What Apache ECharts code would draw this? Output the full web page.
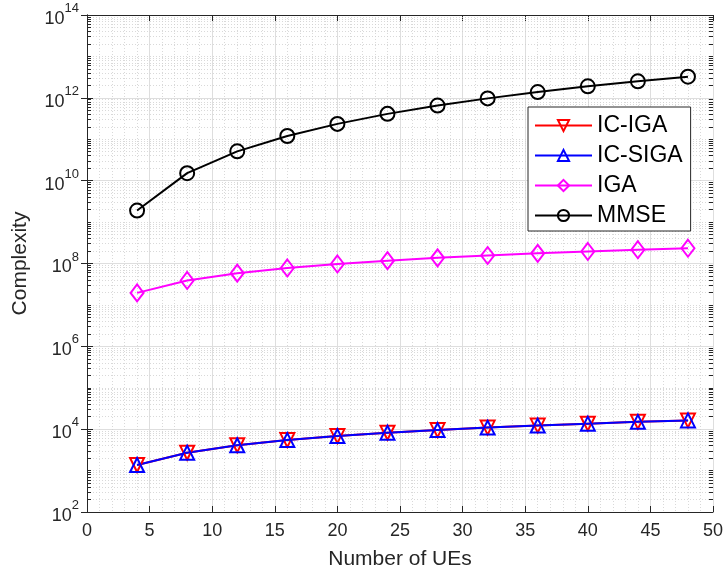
<!DOCTYPE html>
<html><head><meta charset="utf-8">
<script src="https://cdn.jsdelivr.net/npm/echarts@6/dist/echarts.min.js"></script>
<style>html,body{margin:0;padding:0;background:#fff}#c{width:728px;height:575px}</style>
</head><body><div id="c"></div>
<script>
const numUEs = [4, 8, 12, 16, 20, 24, 28, 32, 36, 40, 44, 48];
const icIga = [1.36e3, 2.7e3, 4.1e3, 5.45e3, 6.8e3, 8.2e3, 9.5e3, 1.09e4, 1.22e4, 1.36e4, 1.5e4, 1.63e4];
const icSiga = [1.36e3, 2.7e3, 4.1e3, 5.45e3, 6.8e3, 8.2e3, 9.5e3, 1.09e4, 1.22e4, 1.36e4, 1.5e4, 1.63e4];
const iga = [1.95e7, 3.9e7, 5.85e7, 7.8e7, 9.75e7, 1.17e8, 1.37e8, 1.56e8, 1.76e8, 1.95e8, 2.15e8, 2.34e8];
const mmse = [1.9e9, 1.52e10, 5.1e10, 1.2e11, 2.35e11, 4.1e11, 6.5e11, 9.7e11, 1.38e12, 1.9e12, 2.5e12, 3.25e12];
const xTicks = [0, 5, 10, 15, 20, 25, 30, 35, 40, 45, 50];
const yExponents = [2, 4, 6, 8, 10, 12, 14];

const axisColor = '#262626';
const font = 'Liberation Sans, Arial, Helvetica, sans-serif';

// minor log grid / tick values (2..9 x 10^k and odd decades)
const minorVals = [];
for (let e = 2; e < 14; e++) {
  for (let m = 1; m <= 9; m++) {
    if (m === 1 && e % 2 === 0) continue;
    minorVals.push(m * Math.pow(10, e));
  }
}
const minorGrid = minorVals.map(v => ({ yAxis: v }));
const minorTicks = [];
minorVals.forEach(v => {
  minorTicks.push([{ coord: [0, v] }, { coord: [0.32, v] }]);
  minorTicks.push([{ coord: [49.68, v] }, { coord: [50, v] }]);
});

function mk(name, data, color, symbol, size, rotate) {
  return {
    name, type: 'line', data: numUEs.map((x, i) => [x, data[i]]),
    symbol, symbolSize: size, symbolRotate: rotate || 0,
    lineStyle: { color, width: 2 },
    itemStyle: { color: 'rgba(0,0,0,0)', borderColor: color, borderWidth: 2 },
    emphasis: { disabled: true }, animation: false, z: 3
  };
}

const chart = echarts.init(document.getElementById('c'), null, { renderer: 'canvas' });
const yLabelFmt = v => {
  const e = Math.round(Math.log10(v));
  return yExponents.indexOf(e) >= 0 ? '{b|10}{s|' + e + '}' : '';
};
const yAxisBase = {
  type: 'log', logBase: 10, min: 1e2, max: 1e14, interval: 2, splitNumber: 6,
  axisLine: { show: true, lineStyle: { color: axisColor, width: 1 } },
  axisTick: { show: true, inside: true, length: 6, lineStyle: { color: axisColor } },
  splitLine: { show: true, lineStyle: { color: '#dedede', width: 1 } },
  minorTick: { show: false }, minorSplitLine: { show: false }
};
const xAxisBase = {
  type: 'value', min: 0, max: 50, interval: 5,
  axisLine: { show: true, onZero: false, lineStyle: { color: axisColor, width: 1 } },
  axisTick: { show: true, inside: true, length: 6, lineStyle: { color: axisColor } },
  splitLine: { show: true, lineStyle: { color: '#dedede', width: 1 } },
  minorTick: { show: false, splitNumber: 5 },
  minorSplitLine: { show: true, lineStyle: { color: '#cfcfcf', width: 0.8, type: [1, 2] } }
};

const series = [
  mk('IC-IGA', icIga, '#ff0000', 'triangle', 14, 180),
  mk('IC-SIGA', icSiga, '#0000ff', 'triangle', 14, 0),
  mk('IGA', iga, '#ff00ff', 'diamond', [13, 17], 0),
  mk('MMSE', mmse, '#000000', 'circle', 14, 0)
];
series.push({
  name: '_grid', type: 'line', data: [], silent: true, animation: false, z: 1,
  markLine: {
    silent: true, symbol: ['none', 'none'], animation: false, z: 1,
    label: { show: false },
    lineStyle: { color: '#cfcfcf', width: 0.8, type: [1, 2] },
    data: minorGrid
  }
});
series.push({
  name: '_ticks', type: 'line', data: [], silent: true, animation: false, z: 1,
  markLine: {
    silent: true, symbol: ['none', 'none'], animation: false, z: 1,
    label: { show: false },
    lineStyle: { color: axisColor, width: 1, type: 'solid' },
    data: minorTicks
  }
});

chart.setOption({
  backgroundColor: '#fff',
  animation: false,
  grid: { left: 87, right: 15, top: 15, bottom: 63, containLabel: false },
  xAxis: [
    Object.assign({}, xAxisBase, {
      position: 'bottom',
      name: 'Number of UEs', nameLocation: 'middle', nameGap: 37,
      nameTextStyle: { fontFamily: font, fontSize: 21, color: axisColor },
      axisLabel: { show: true, fontFamily: font, fontSize: 18, color: axisColor, margin: 10,
        formatter: v => (xTicks.indexOf(v) >= 0 ? String(v) : '') }
    }),
    Object.assign({}, xAxisBase, {
      position: 'top', splitLine: { show: false }, minorSplitLine: { show: false },
      axisLabel: { show: false }
    })
  ],
  yAxis: [
    Object.assign({}, yAxisBase, {
      position: 'left',
      name: 'Complexity', nameLocation: 'middle', nameGap: 56,
      nameTextStyle: { fontFamily: font, fontSize: 21, color: axisColor },
      axisLabel: {
        show: true, margin: 8, formatter: yLabelFmt,
        rich: {
          b: { fontFamily: font, fontSize: 18, color: axisColor, verticalAlign: 'bottom', lineHeight: 26 },
          s: { fontFamily: font, fontSize: 13, color: axisColor, verticalAlign: 'top', lineHeight: 26 }
        }
      }
    }),
    Object.assign({}, yAxisBase, {
      position: 'right', splitLine: { show: false }, axisLabel: { show: false }
    })
  ],
  legend: {
    show: true, orient: 'vertical', left: 528, top: 107, z: 20,
    data: ['IC-IGA', 'IC-SIGA', 'IGA', 'MMSE'],
    backgroundColor: '#fff', borderColor: axisColor, borderWidth: 1,
    padding: [7, 8, 4, 6], itemWidth: 57, itemHeight: 14, itemGap: 7,
    textStyle: { fontFamily: font, fontSize: 23, color: '#000' }
  },
  series
});
</script></body></html>
